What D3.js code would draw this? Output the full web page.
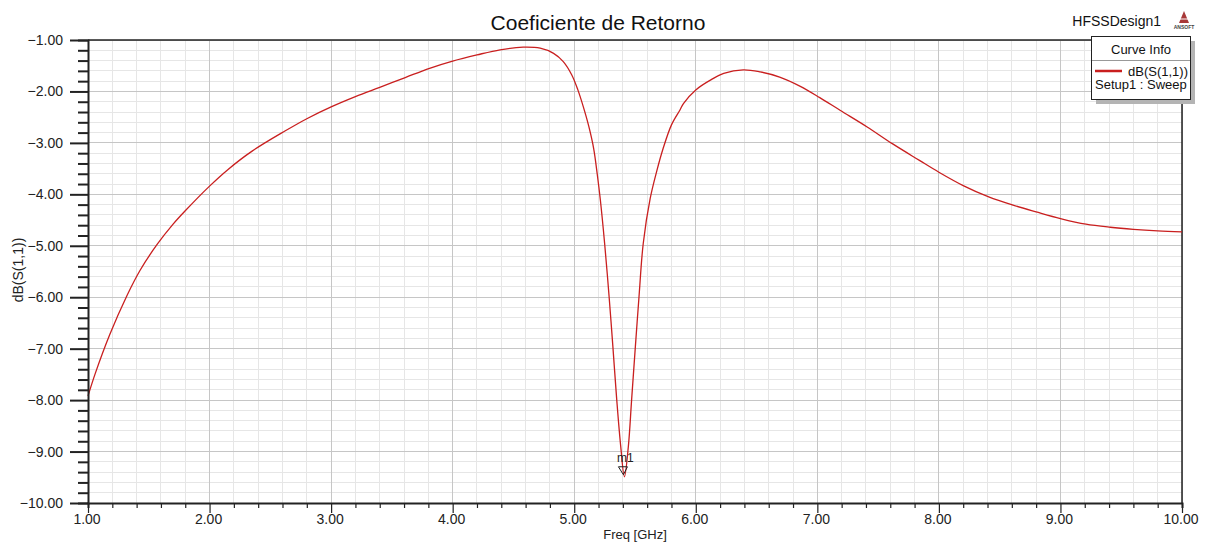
<!DOCTYPE html>
<html>
<head>
<meta charset="utf-8">
<script src="https://cdn.jsdelivr.net/npm/d3@7"></script>
<style>
  html, body { margin: 0; padding: 0; background: #ffffff; }
  svg { display: block; font-family: "Liberation Sans", Arial, sans-serif; }
</style>
</head>
<body>
<svg id="chart" width="1207" height="545"></svg>
<script>
// ---------- data ----------
const titleText = "Coeficiente de Retorno";
const designName = "HFSSDesign1";
const xLabel = "Freq [GHz]";
const yLabel = "dB(S(1,1))";
const seriesName = "dB(S(1,1))";
const seriesSetup = "Setup1 : Sweep";

const freqGHz = [1.00, 1.06, 1.18, 1.32, 1.43, 1.57, 1.70, 1.80, 2.00, 2.15, 2.35, 2.62, 2.80, 3.00, 3.20, 3.40,
  3.61, 3.81, 4.00, 4.20, 4.39, 4.58, 4.72, 4.83, 4.91, 4.98, 5.03, 5.075, 5.12, 5.16, 5.19, 5.215, 5.25,
  5.287, 5.318, 5.35, 5.383, 5.413, 5.445, 5.472, 5.503, 5.533, 5.568, 5.625, 5.68, 5.73, 5.80, 5.87, 5.90,
  6.00, 6.12, 6.23, 6.39, 6.53, 6.69, 6.86, 7.02, 7.19, 7.41, 7.62, 7.84, 8.00, 8.20, 8.41, 8.61, 8.80,
  9.00, 9.21, 9.41, 9.60, 9.80, 10.00];
const s11dB = [-7.92, -7.48, -6.72, -5.97, -5.47, -4.97, -4.58, -4.32, -3.84, -3.52, -3.16, -2.77, -2.53, -2.30, -2.10, -1.92,
  -1.73, -1.55, -1.41, -1.29, -1.19, -1.14, -1.16, -1.26, -1.42, -1.68, -1.97, -2.30, -2.68, -3.11, -3.62, -4.11, -4.95,
  -5.99, -6.96, -8.00, -8.91, -9.49, -8.91, -8.00, -6.96, -5.99, -4.95, -4.08, -3.54, -3.12, -2.65, -2.36, -2.23,
  -1.97, -1.78, -1.65, -1.58, -1.62, -1.72, -1.90, -2.12, -2.37, -2.69, -3.02, -3.34, -3.57, -3.83, -4.05, -4.21, -4.34,
  -4.47, -4.58, -4.64, -4.68, -4.71, -4.73];

const xTickValues = [1, 2, 3, 4, 5, 6, 7, 8, 9, 10];
const yTickValues = [-1, -2, -3, -4, -5, -6, -7, -8, -9, -10];
const markerName = "m1";
const markerFreq = 5.413;
const markerDb = -9.49;

// ---------- layout ----------
const svg = d3.select("#chart");
const L = 88, R = 1182, T = 40, B = 503;
const x = d3.scaleLinear().domain([1, 10]).range([L, R]);
const y = d3.scaleLinear().domain([-10, -1]).range([B, T]);
const red = "#c91f1f";

// minor / major grid
const xMinor = d3.range(1, 10.0001, 0.2).map(v => +v.toFixed(2));
const yMinor = d3.range(-10, -0.9999, 0.2).map(v => +v.toFixed(2));
const isInt = v => Math.abs(v - Math.round(v)) < 1e-6;

const grid = svg.append("g");
grid.append("g").selectAll("line").data(xMinor.filter(v => !isInt(v))).join("line")
  .attr("x1", d => x(d)).attr("x2", d => x(d)).attr("y1", T).attr("y2", B)
  .attr("stroke", "#e6e6e6").attr("stroke-width", 1).attr("shape-rendering", "crispEdges");
grid.append("g").selectAll("line").data(yMinor.filter(v => !isInt(v))).join("line")
  .attr("y1", d => y(d)).attr("y2", d => y(d)).attr("x1", L).attr("x2", R)
  .attr("stroke", "#e6e6e6").attr("stroke-width", 1).attr("shape-rendering", "crispEdges");
grid.append("g").selectAll("line").data(xTickValues).join("line")
  .attr("x1", d => x(d)).attr("x2", d => x(d)).attr("y1", T).attr("y2", B)
  .attr("stroke", "#c6c6c6").attr("stroke-width", 1).attr("shape-rendering", "crispEdges");
grid.append("g").selectAll("line").data(yTickValues).join("line")
  .attr("y1", d => y(d)).attr("y2", d => y(d)).attr("x1", L).attr("x2", R)
  .attr("stroke", "#c6c6c6").attr("stroke-width", 1).attr("shape-rendering", "crispEdges");

// frame top/right
svg.append("line").attr("x1", L).attr("x2", R).attr("y1", T).attr("y2", T)
  .attr("stroke", "#222").attr("stroke-width", 1.5);
svg.append("line").attr("x1", R).attr("x2", R).attr("y1", T).attr("y2", B)
  .attr("stroke", "#222").attr("stroke-width", 1.5);

// curve
const pts = freqGHz.map((f, i) => [f, s11dB[i]]);
const line = d3.line().x(d => x(d[0])).y(d => y(d[1])).curve(d3.curveCatmullRom.alpha(0.5));
svg.append("path").datum(pts).attr("d", line)
  .attr("fill", "none").attr("stroke", red).attr("stroke-width", 1.3);

// y axis
const yAxis = d3.axisLeft(y).tickValues(yMinor).tickSize(10).tickFormat("");
const gy = svg.append("g").attr("transform", `translate(${L},0)`).call(yAxis);
gy.select(".domain").attr("stroke", "#222").attr("stroke-width", 2);
gy.selectAll(".tick line").attr("stroke", "#222").attr("stroke-width", 2)
  .attr("x2", d => isInt(d) ? -18 : -10);
svg.append("g").selectAll("text").data(yTickValues).join("text")
  .attr("x", 63).attr("y", d => y(d) + 5).attr("text-anchor", "end")
  .attr("font-size", 14).attr("fill", "#222").text(d => d3.format(".2f")(d));

// x axis
const xAxis = d3.axisBottom(x).tickValues(xMinor).tickSize(5).tickFormat("");
const gx = svg.append("g").attr("transform", `translate(0,${B})`).call(xAxis);
gx.select(".domain").attr("stroke", "#222").attr("stroke-width", 2);
gx.selectAll(".tick line").attr("stroke", "#222").attr("stroke-width", 1.2)
  .attr("y2", d => isInt(d) ? 10 : 5);
svg.append("g").selectAll("text").data(xTickValues).join("text")
  .attr("x", d => x(d) - 1).attr("y", 524).attr("text-anchor", "middle")
  .attr("font-size", 14).attr("fill", "#222").text(d => d3.format(".2f")(d));

// axis titles
svg.append("text").attr("x", 635).attr("y", 539).attr("text-anchor", "middle")
  .attr("font-size", 13).attr("fill", "#222").text(xLabel);
svg.append("text").attr("transform", "translate(23,270) rotate(-90)").attr("text-anchor", "middle")
  .attr("font-size", 14).attr("fill", "#222").text(yLabel);

// title
svg.append("text").attr("x", 598).attr("y", 30).attr("text-anchor", "middle")
  .attr("font-size", 21).attr("fill", "#111").text(titleText);
svg.append("text").attr("x", 1161).attr("y", 26).attr("text-anchor", "end")
  .attr("font-size", 14).attr("fill", "#111").text(designName);

// ansoft logo
const logo = svg.append("g");
logo.append("path").attr("d", "M1179,23 L1184,11 L1189,23 Z").attr("fill", "#a83838");
logo.append("line").attr("x1", 1180).attr("x2", 1188).attr("y1", 19).attr("y2", 19).attr("stroke", "#fff").attr("stroke-width", 1);
logo.append("text").attr("x", 1184).attr("y", 29).attr("text-anchor", "middle")
  .attr("font-size", 5).attr("font-weight", "bold").attr("fill", "#444").text("ANSOFT");

// marker
const mx = x(markerFreq), my = y(markerDb);
svg.append("path")
  .attr("d", `M${mx - 6},${my - 10} L${mx + 3},${my - 10} L${mx - 1},${my - 2} Z`)
  .attr("fill", "none").attr("stroke", "#222").attr("stroke-width", 1);
svg.append("text").attr("x", mx + 1).attr("y", my - 15).attr("text-anchor", "middle")
  .attr("font-size", 12).attr("fill", "#222").text(markerName);

// legend
const lg = svg.append("g");
lg.append("rect").attr("x", 1096).attr("y", 41).attr("width", 99).attr("height", 63).attr("fill", "#b4b4b4");
lg.append("rect").attr("x", 1091.5).attr("y", 36.5).attr("width", 99).attr("height", 63)
  .attr("fill", "#fff").attr("stroke", "#222").attr("stroke-width", 1);
lg.append("line").attr("x1", 1092).attr("x2", 1190).attr("y1", 60.5).attr("y2", 60.5)
  .attr("stroke", "#999").attr("stroke-width", 1);
lg.append("text").attr("x", 1141).attr("y", 54).attr("text-anchor", "middle")
  .attr("font-size", 13).attr("fill", "#111").text("Curve Info");
lg.append("line").attr("x1", 1095).attr("x2", 1122).attr("y1", 71).attr("y2", 71)
  .attr("stroke", red).attr("stroke-width", 2.5);
lg.append("text").attr("x", 1188).attr("y", 76).attr("text-anchor", "end")
  .attr("font-size", 13).attr("fill", "#111").text(seriesName);
lg.append("text").attr("x", 1095).attr("y", 89)
  .attr("font-size", 13).attr("fill", "#111").text(seriesSetup);
</script>
</body>
</html>
